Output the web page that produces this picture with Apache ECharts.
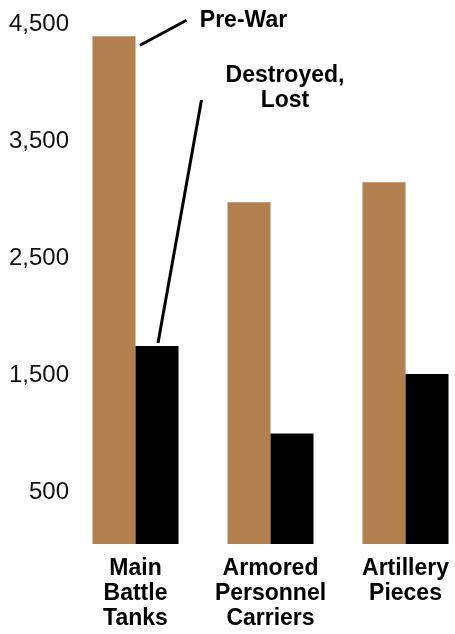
<!DOCTYPE html>
<html>
<head>
<meta charset="utf-8">
<script src="https://cdn.jsdelivr.net/npm/echarts@6/dist/echarts.min.js"></script>
<style>
  html, body { margin: 0; padding: 0; background: #fff; overflow: hidden; }
  /* plot area runs a little past the right edge of the window */
  #chart { width: 473px; height: 634px; }
</style>
</head>
<body>
<div id="chart"></div>
<script>
// Equipment categories and counts
const categories = ['Main Battle Tanks', 'Armored Personnel Carriers', 'Artillery Pieces'];
const preWar = [4400, 2980, 3150];
const destroyedLost = [1750, 1000, 1510];
const yTickValues = [500, 1500, 2500, 3500, 4500];

const FONT = 'Helvetica, Arial, "Liberation Sans", sans-serif';
const TAN = '#b2804e';
const BAR_W = 43;

const chart = echarts.init(document.getElementById('chart'), null, { renderer: 'canvas' });

chart.setOption({
  animation: false,
  backgroundColor: '#ffffff',
  grid: { left: 68, right: 0, top: 0, bottom: 90, containLabel: false },
  xAxis: {
    type: 'category',
    data: categories,
    boundaryGap: true,
    axisLine: { show: false },
    axisTick: { show: false },
    axisLabel: {
      interval: 0,
      margin: 12,
      color: '#000',
      fontFamily: FONT,
      fontWeight: 'bold',
      fontSize: 23,
      lineHeight: 25,
      formatter: (v) => v.split(' ').join('\n')
    }
  },
  yAxis: {
    type: 'value',
    min: 55,
    max: 4710,
    axisLine: { show: false },
    axisTick: { show: false },
    splitLine: { show: false },
    axisLabel: {
      customValues: yTickValues,
      margin: -1,
      color: '#111',
      fontFamily: FONT,
      fontSize: 24,
      formatter: (v) => Number(v).toLocaleString('en-US')
    }
  },
  series: [
    {
      name: 'Pre-War',
      type: 'bar',
      data: preWar,
      barWidth: BAR_W,
      barGap: '0%',
      itemStyle: { color: TAN }
    },
    {
      name: 'Destroyed, Lost',
      type: 'bar',
      data: destroyedLost,
      barWidth: BAR_W,
      barGap: '0%',
      itemStyle: { color: '#000' }
    }
  ]
});

// Callout labels with leader lines anchored to the first category's bars
function drawCallouts() {
  const cx = chart.convertToPixel({ xAxisIndex: 0 }, categories[0]);
  const preTop = chart.convertToPixel({ yAxisIndex: 0 }, preWar[0]);
  const lostTop = chart.convertToPixel({ yAxisIndex: 0 }, destroyedLost[0]);
  const lineStyle = { stroke: '#000', lineWidth: 3 };
  const textStyle = {
    fill: '#000',
    font: 'bold 23px ' + FONT,
    align: 'center',
    verticalAlign: 'middle',
    lineHeight: 25
  };
  chart.setOption({
    graphic: [
      {
        type: 'line',
        shape: { x1: cx + 4.5, y1: preTop + 9, x2: cx + 51, y2: preTop - 16 },
        style: lineStyle
      },
      {
        type: 'text',
        x: cx + 108, y: preTop - 16,
        style: Object.assign({ text: 'Pre-War' }, textStyle)
      },
      {
        type: 'line',
        shape: { x1: cx + 22.5, y1: lostTop - 3, x2: cx + 66, y2: lostTop - 246 },
        style: lineStyle
      },
      {
        type: 'text',
        x: cx + 149.5, y: lostTop - 258,
        style: Object.assign({ text: 'Destroyed,\nLost' }, textStyle)
      }
    ]
  });
}
drawCallouts();
</script>
</body>
</html>
